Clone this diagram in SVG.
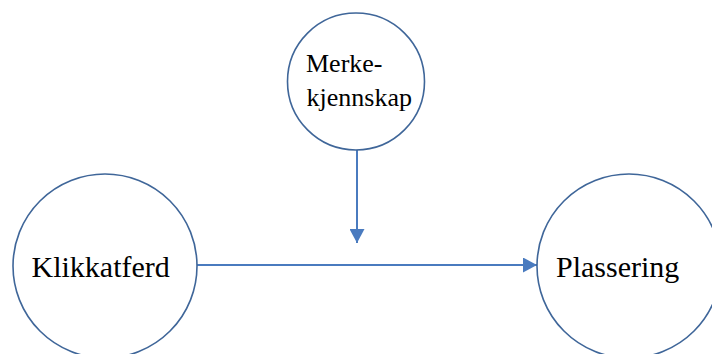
<svg xmlns="http://www.w3.org/2000/svg" width="712" height="354" viewBox="0 0 712 354">
  <style>
    .node circle { fill: #ffffff; stroke: #3f6699; stroke-width: 1.6; }
    text { font-family: 'Liberation Serif', 'Times New Roman', 'DejaVu Serif', serif; fill: #000000; }
    .edge { stroke: #4a7bbf; stroke-width: 2; fill: none; }
  </style>
  <defs>
    <marker id="head" viewBox="0 0 14 15" markerWidth="14" markerHeight="15" refX="14" refY="7.5" orient="auto" markerUnits="userSpaceOnUse">
      <path d="M0,0 L14,7.5 L0,15 Z" fill="#4a7bbf"/>
    </marker>
  </defs>
  <rect width="712" height="354" fill="#ffffff"/>

  <g id="connectors">
    <line class="edge" x1="357" y1="150" x2="357" y2="243" marker-end="url(#head)"/>
    <line class="edge" x1="197" y1="265" x2="537" y2="265" marker-end="url(#head)"/>
  </g>

  <g id="merkekjennskap" class="node">
    <circle cx="356" cy="81.5" r="68.5"/>
    <text font-family="Liberation Serif, serif" font-size="26" x="306" y="72">Merke-</text>
    <text font-family="Liberation Serif, serif" font-size="26" x="306.5" y="106">kjennskap</text>
  </g>

  <g id="klikkatferd" class="node">
    <circle cx="105" cy="266" r="92"/>
    <text font-family="Liberation Serif, serif" font-size="30" x="31.5" y="277">Klikkatferd</text>
  </g>

  <g id="plassering" class="node">
    <circle cx="629" cy="266" r="92"/>
    <text font-family="Liberation Serif, serif" font-size="30" x="556" y="277">Plassering</text>
  </g>
</svg>
